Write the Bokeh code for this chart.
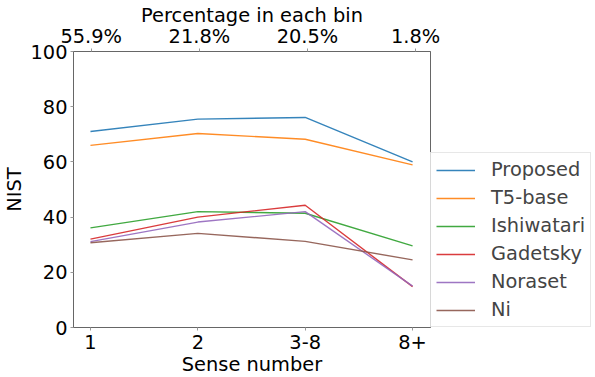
from bokeh.plotting import figure
from bokeh.models import Range1d, LinearAxis, FixedTicker, Legend, LegendItem
from bokeh.embed import file_html
from bokeh.resources import INLINE

categories = ["1", "2", "3-8", "8+"]
percentages = ["55.9%", "21.8%", "20.5%", "1.8%"]
proposed = [71.0, 75.5, 76.1, 60.0]
t5_base = [66.0, 70.3, 68.2, 58.9]
ishiwatari = [36.1, 42.0, 41.4, 29.6]
gadetsky = [32.0, 40.0, 44.3, 14.8]
noraset = [31.1, 38.2, 42.0, 15.0]
ni = [30.7, 34.1, 31.2, 24.5]

series = [("Proposed", proposed, "#1f77b4"),
          ("T5-base", t5_base, "#ff7f0e"),
          ("Ishiwatari", ishiwatari, "#2ca02c"),
          ("Gadetsky", gadetsky, "#d62728"),
          ("Noraset", noraset, "#9467bd"),
          ("Ni", ni, "#8c564b")]

FONT = "DejaVu Sans"
FS = "19.4px"
xs = list(range(len(categories)))

p = figure(output_backend="svg", toolbar_location=None,
           frame_width=357, frame_height=276,
           min_border_left=66, min_border_top=44, min_border_bottom=44, min_border_right=0,
           x_range=Range1d(-0.158, 3.167), y_range=Range1d(0, 100),
           background_fill_color="white", border_fill_color="white")
p.extra_x_ranges = {"top": Range1d(-0.164, 3.138)}
p.grid.visible = False
p.outline_line_color = "#666666"

items = []
for name, vals, col in series:
    r = p.line(xs, vals, line_color=col, line_width=1.4, line_alpha=0.9)
    items.append(LegendItem(label=name, renderers=[r]))

def style_axis(ax, lstand, astand):
    ax.axis_line_color = "#666666"
    ax.major_tick_line_color = "#999999"
    ax.major_tick_out = 3
    ax.major_tick_in = 0
    ax.minor_tick_line_color = None
    ax.major_label_text_font = FONT
    ax.major_label_text_font_size = FS
    ax.major_label_text_color = "black"
    ax.axis_label_text_font = FONT
    ax.axis_label_text_font_size = FS
    ax.axis_label_text_font_style = "normal"
    ax.axis_label_text_color = "black"
    ax.major_label_standoff = lstand
    ax.axis_label_standoff = astand

xa = p.xaxis[0]
xa.ticker = FixedTicker(ticks=xs)
xa.major_label_overrides = {i: c for i, c in enumerate(categories)}
xa.axis_label = "Sense number"
style_axis(xa, 4, 1)

ya = p.yaxis[0]
ya.ticker = FixedTicker(ticks=[0, 20, 40, 60, 80, 100])
ya.axis_label = "NIST"
style_axis(ya, 3, 1)

top = LinearAxis(x_range_name="top", ticker=FixedTicker(ticks=xs),
                 axis_label="Percentage in each bin")
top.major_label_overrides = {i: c for i, c in enumerate(percentages)}
style_axis(top, 1, -5)
p.add_layout(top, "above")

legend = Legend(items=items, location="bottom_left",
                label_text_font=FONT, label_text_font_size=FS,
                glyph_width=39, glyph_height=20, label_height=20, label_standoff=16,
                spacing=5, padding=5, margin=0,
                border_line_color="#d0d0d0", border_line_width=1,
                background_fill_color="white", background_fill_alpha=0.8)
p.add_layout(legend, "right")

open("out.html", "w").write(file_html(p, INLINE))
